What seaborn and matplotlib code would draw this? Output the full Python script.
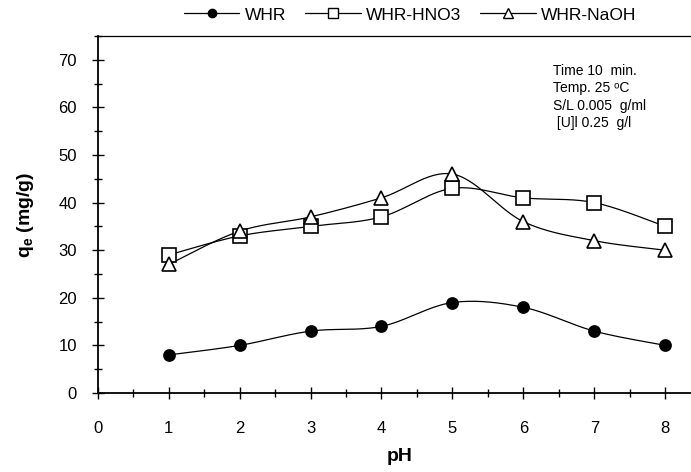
import numpy as np
import pandas as pd
import matplotlib
matplotlib.use("Agg")
import matplotlib.pyplot as plt
from matplotlib.lines import Line2D
from matplotlib.ticker import MultipleLocator
import seaborn as sns

sns.set_style("white")
plt.rcParams['font.family'] = ['Liberation Sans', 'DejaVu Sans']
plt.rcParams['mathtext.fontset'] = 'custom'
plt.rcParams['mathtext.rm'] = 'Liberation Sans'
plt.rcParams['mathtext.bf'] = 'Liberation Sans:bold'
plt.rcParams['text.color'] = 'black'
plt.rcParams['axes.labelcolor'] = 'black'
plt.rcParams['xtick.color'] = 'black'
plt.rcParams['ytick.color'] = 'black'

ph = [1, 2, 3, 4, 5, 6, 7, 8]
whr = [8, 10, 13, 14, 19, 18, 13, 10]
whr_hno3 = [29, 33, 35, 37, 43, 41, 40, 35]
whr_naoh = [27, 34, 37, 41, 46, 36, 32, 30]
series_names = ["WHR", "WHR-HNO3", "WHR-NaOH"]
notes = ["Time 10  min.", "Temp. 25 \u1d52C", "S/L 0.005  g/ml", " [U]l 0.25  g/l"]


def smooth(xs, ys, n=30):
    # Excel-style smoothed line (Catmull-Rom Bezier) through the data points
    p = np.column_stack([xs, ys]).astype(float)
    pts = []
    for i in range(len(p) - 1):
        p0 = p[i - 1] if i > 0 else p[i]
        p1, p2 = p[i], p[i + 1]
        p3 = p[i + 2] if i + 2 < len(p) else p[i + 1]
        c1 = p1 + (p2 - p0) / 6
        c2 = p2 - (p3 - p1) / 6
        t = np.linspace(0, 1, n, endpoint=(i == len(p) - 2))[:, None]
        seg = ((1 - t) ** 3) * p1 + 3 * ((1 - t) ** 2) * t * c1 + 3 * (1 - t) * t ** 2 * c2 + t ** 3 * p2
        pts.append(seg)
    pts = np.vstack(pts)
    return pts[:, 0], pts[:, 1]


fig = plt.figure(figsize=(6.91, 4.72), dpi=100)
ax = fig.add_axes([97.7 / 691, 79 / 472, 603 / 691, 357 / 472])

styles = [
    dict(marker="o", mfc="black", ms=8),
    dict(marker="s", mfc="white", ms=9.5),
    dict(marker="^", mfc="white", ms=10),
]
handles = []
for name, vals, st in zip(series_names, [whr, whr_hno3, whr_naoh], styles):
    sx, sy = smooth(ph, vals)
    cdf = pd.DataFrame({"x": sx, "y": sy})
    sns.lineplot(data=cdf, x="x", y="y", sort=False, color="black", lw=0.9, ax=ax, legend=False)
    ax.plot(ph, vals, linestyle="none", marker=st["marker"], markerfacecolor=st["mfc"],
            markeredgecolor="black", markeredgewidth=1.2, markersize=st["ms"], zorder=5)
    handles.append(Line2D([0], [0], color="black", lw=0.9, marker=st["marker"],
                          markerfacecolor=st["mfc"], markeredgecolor="black",
                          markeredgewidth=1.0, markersize=st["ms"] * 0.75))

ax.set_xlim(0, 8.5)
ax.set_ylim(0, 75)
ax.xaxis.set_major_locator(MultipleLocator(1))
ax.xaxis.set_minor_locator(MultipleLocator(0.5))
ax.yaxis.set_minor_locator(MultipleLocator(5))
ax.set_yticks([0, 10, 20, 30, 40, 50, 60, 70])
ax.tick_params(which="major", direction="inout", length=8, width=1.0, labelsize=12)
ax.tick_params(which="minor", direction="inout", length=6, width=1.0)
ax.tick_params(axis="x", which="major", pad=16)
ax.tick_params(axis="y", which="major", pad=11)
ax.tick_params(axis="y", which="both", left=True)
ax.tick_params(axis="x", which="both", bottom=True)
for s in ["left", "bottom", "top"]:
    ax.spines[s].set_linewidth(1.3)
    ax.spines[s].set_color("black")
ax.spines["top"].set_linewidth(0.9)
ax.spines["right"].set_visible(False)

ax.set_xlabel("pH", fontsize=14, fontweight="bold", labelpad=9)
ax.set_ylabel(r"$\mathbf{q_e}$ (mg/g)", fontsize=14, fontweight="bold", labelpad=16)

fig.text(553 / 691, 1 - 64 / 472, "\n".join(notes), fontsize=10, ha="left", va="top",
         linespacing=1.3)

fig.legend(handles, series_names, loc="center", bbox_to_anchor=(410 / 691, 1 - 15 / 472),
           ncol=3, frameon=False, fontsize=12.5, handlelength=3.2, handletextpad=0.3,
           columnspacing=1.1)

fig.savefig("out.png", dpi=100)
